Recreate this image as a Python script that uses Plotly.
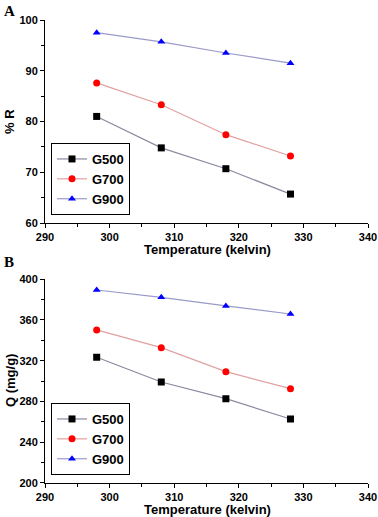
import plotly.graph_objects as go
from plotly.subplots import make_subplots

temps = [298, 308, 318, 328]
series_names = ["G500", "G700", "G900"]
R_G500 = [81.0, 74.8, 70.7, 65.7]
R_G700 = [87.6, 83.3, 77.4, 73.2]
R_G900 = [97.5, 95.7, 93.5, 91.5]
Q_G500 = [323.3, 299.0, 282.6, 262.6]
Q_G700 = [350.2, 332.8, 309.2, 292.5]
Q_G900 = [389.5, 382.3, 373.8, 365.9]

marker_colors = ["black", "red", "blue"]
line_colors = ["#8a8aa0", "#e0a0a0", "#9a9ac8"]
symbols = ["square", "circle", "triangle-up"]

W, H = 378, 517
fig = make_subplots(rows=2, cols=1)

FONT = "Arial, Liberation Sans, sans-serif"

for row, data, leg in [(1, [R_G500, R_G700, R_G900], "legend"), (2, [Q_G500, Q_G700, Q_G900], "legend2")]:
    for i, (name, ys) in enumerate(zip(series_names, data)):
        fig.add_trace(go.Scatter(
            x=temps, y=ys, name=name, mode="lines+markers",
            line=dict(color=line_colors[i], width=1.2),
            marker=dict(color=marker_colors[i], symbol=symbols[i], size=7),
            legend=leg,
        ), row=row, col=1)

def px_x(p):
    return p / W

def px_y(p):
    return 1 - p / H

axis_common = dict(
    showgrid=False, zeroline=False, showline=True, linecolor="black", linewidth=1,
    ticks="outside", ticklen=4, tickcolor="black", tickwidth=1,
    tickfont=dict(family=FONT, size=11, color="black", weight="bold"),
    mirror=False, automargin=False,
)

legend_common = dict(
    x=px_x(51), xanchor="left", yanchor="bottom",
    bordercolor="black", borderwidth=1, bgcolor="white",
    font=dict(family=FONT, size=13, color="black", weight="bold"),
    tracegroupgap=0, itemwidth=30,
)

fig.update_layout(
    width=W, height=H, margin=dict(l=0, r=0, t=0, b=0, autoexpand=False),
    plot_bgcolor="white", paper_bgcolor="white",
    xaxis=dict(domain=[px_x(45), px_x(368)], range=[290, 340], dtick=10,
               minor=dict(ticks="outside", ticklen=3, dtick=5, tickcolor="black"), **axis_common),
    xaxis2=dict(domain=[px_x(45), px_x(368)], range=[290, 340], dtick=10,
                minor=dict(ticks="outside", ticklen=3, dtick=5, tickcolor="black"), **axis_common),
    yaxis=dict(domain=[px_y(223), px_y(20)], range=[60, 100], dtick=10,
               minor=dict(ticks="outside", ticklen=3, dtick=5, tickcolor="black"), **axis_common),
    yaxis2=dict(domain=[px_y(482.7), px_y(279.3)], range=[200, 400], dtick=40,
                minor=dict(ticks="outside", ticklen=3, dtick=20, tickcolor="black"), **axis_common),
    showlegend=True,
    legend=dict(y=px_y(215), **legend_common),
    legend2=dict(y=px_y(475), **legend_common),
)

ann_font = dict(family=FONT, size=13, color="black", weight="bold")
annotations = [
    dict(text="A", x=px_x(2), y=px_y(1), xanchor="left", yanchor="top",
         font=dict(family="Liberation Serif, Times New Roman, serif", size=15, color="black", weight="bold")),
    dict(text="B", x=px_x(2), y=px_y(252), xanchor="left", yanchor="top",
         font=dict(family="Liberation Serif, Times New Roman, serif", size=15, color="black", weight="bold")),
    dict(text="Temperature (kelvin)", x=px_x(207), y=px_y(249.5), xanchor="center", yanchor="middle", font=ann_font),
    dict(text="Temperature (kelvin)", x=px_x(207), y=px_y(509.5), xanchor="center", yanchor="middle", font=ann_font),
    dict(text="% R", x=px_x(10), y=px_y(122), xanchor="center", yanchor="middle", textangle=-90, font=ann_font),
    dict(text="Q (mg/g)", x=px_x(10), y=px_y(381), xanchor="center", yanchor="middle", textangle=-90, font=ann_font),
]
for a in annotations:
    a.update(xref="paper", yref="paper", showarrow=False)
fig.update_layout(annotations=annotations)

fig.write_html(
    "out.html",
    config={"displayModeBar": False},
    post_script="document.body.style.margin='0';document.body.style.padding='0';document.documentElement.style.overflow='hidden';",
)
